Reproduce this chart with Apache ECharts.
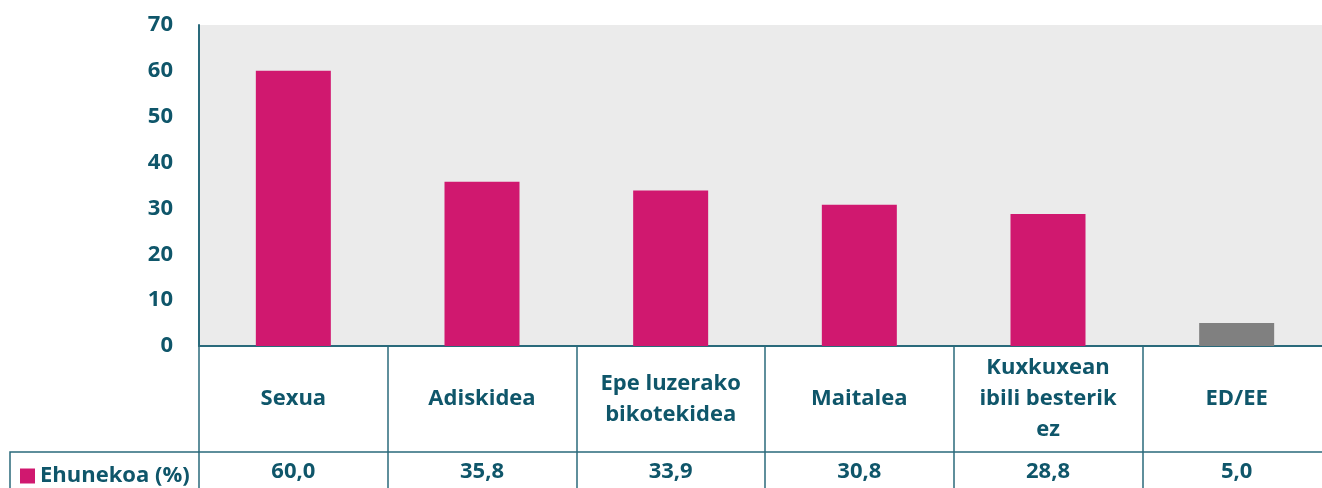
<!DOCTYPE html>
<html>
<head>
<meta charset="utf-8">
<script src="https://cdn.jsdelivr.net/npm/echarts@6/dist/echarts.min.js"></script>
<style>
  html, body { margin: 0; padding: 0; background: #fff; }
  #chart { width: 1322px; height: 488px; }
</style>
</head>
<body>
<div id="chart"></div>
<script>
// data
const categories = ['Sexua', 'Adiskidea', 'Epe luzerako\nbikotekidea', 'Maitalea', 'Kuxkuxean\nibili besterik\nez', 'ED/EE'];
const values = [60.0, 35.8, 33.9, 30.8, 28.8, 5.0];
const seriesName = 'Ehunekoa (%)';
const yTicks = { min: 0, max: 70, interval: 10 };

const TEAL = '#0f566a';
const LINE = '#2a6a7b';
const MAGENTA = '#d0186f';
const GREY = '#808080';
const FONT = '"Open Sans", "Noto Sans", sans-serif';

const chart = echarts.init(document.getElementById('chart'), null, { renderer: 'canvas' });

const labelStyle = { color: TEAL, fontFamily: FONT, fontWeight: 'bold', fontSize: 22 };
const cellLabel = Object.assign({
  show: true, position: 'inside', formatter: p => p.name,
  textBorderWidth: 0, textShadowBlur: 0, opacity: 1
}, labelStyle);

chart.setOption({
  animation: false,
  legend: {
    data: [seriesName],
    left: 15, top: 460,
    icon: 'rect', itemWidth: 15, itemHeight: 15, itemGap: 5,
    textStyle: labelStyle,
    selectedMode: false
  },
  grid: [
    { left: 199, width: 1132, top: 25, height: 321, show: true, backgroundColor: '#ebebeb', borderWidth: 0, outerBoundsMode: 'none' },
    { left: 199, width: 1132, top: 346, height: 106, outerBoundsMode: 'none' },
    { left: 199, width: 1132, top: 452, height: 40, outerBoundsMode: 'none' }
  ],
  xAxis: [
    {
      gridIndex: 0, type: 'category', data: categories,
      axisLine: { show: true, lineStyle: { color: LINE, width: 2 } },
      axisTick: { show: false }, axisLabel: { show: false }
    },
    {
      gridIndex: 1, type: 'category', data: categories,
      axisLine: { show: false }, axisTick: { show: false }, axisLabel: { show: false },
      splitLine: { show: true, interval: 0, lineStyle: { color: LINE, width: 1.5 } }
    },
    {
      gridIndex: 2, type: 'category', data: categories, position: 'top',
      axisLine: { show: true, onZero: false, lineStyle: { color: LINE, width: 1.5 } },
      axisTick: { show: false }, axisLabel: { show: false },
      splitLine: { show: true, interval: 0, lineStyle: { color: LINE, width: 1.5 } }
    }
  ],
  yAxis: [
    {
      gridIndex: 0, type: 'value', min: yTicks.min, max: yTicks.max, interval: yTicks.interval,
      axisLine: { show: true, lineStyle: { color: LINE, width: 2 } },
      axisTick: { show: false },
      splitLine: { show: false },
      axisLabel: Object.assign({ margin: 26 }, labelStyle)
    },
    { gridIndex: 1, type: 'value', min: 0, max: 1, show: false },
    { gridIndex: 2, type: 'value', min: 0, max: 1, show: false }
  ],
  graphic: [
    {
      type: 'polyline', silent: true,
      shape: { points: [[10, 500], [10, 452], [199, 452]] },
      style: { fill: null, stroke: LINE, lineWidth: 1.5 }
    }
  ],
  series: [
    {
      name: seriesName, type: 'bar', xAxisIndex: 0, yAxisIndex: 0,
      barWidth: 75,
      itemStyle: { color: MAGENTA },
      data: values.map((v, i) => ({
        value: v,
        itemStyle: { color: i === values.length - 1 ? GREY : MAGENTA }
      }))
    },
    {
      type: 'scatter', xAxisIndex: 1, yAxisIndex: 1, symbolSize: 1, silent: true,
      itemStyle: { color: 'rgba(0,0,0,0)' },
      label: Object.assign({ lineHeight: 31 }, cellLabel),
      data: categories.map((c, i) => ({ name: c, value: [i, 0.5] }))
    },
    {
      type: 'scatter', xAxisIndex: 2, yAxisIndex: 2, symbolSize: 1, silent: true,
      itemStyle: { color: 'rgba(0,0,0,0)' },
      label: cellLabel,
      data: values.map((v, i) => ({ name: v.toFixed(1).replace('.', ','), value: [i, 0.5] }))
    }
  ]
});
</script>
</body>
</html>
